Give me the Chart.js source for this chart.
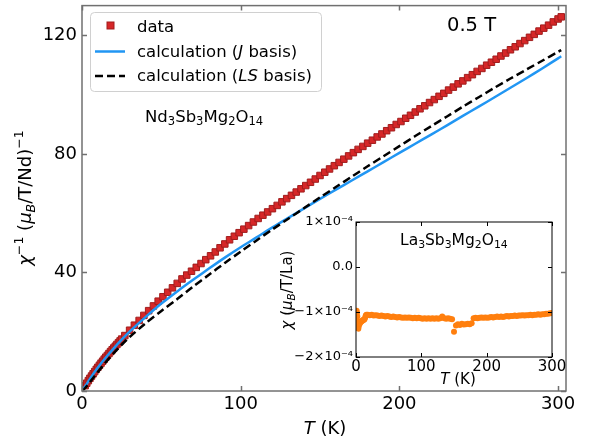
<!DOCTYPE html>
<html>
<head>
<meta charset="utf-8">
<script src="https://cdn.jsdelivr.net/npm/chart.js@4.4.0/dist/chart.umd.min.js"></script>
<style>
  html, body { margin: 0; padding: 0; background: #fff; }
  #wrap { position: relative; width: 596px; height: 443px; }
  #main { position: absolute; left: 0; top: 0; }
  #inset { position: absolute; left: 280px; top: 205px; }
</style>
</head>
<body>
<div id="wrap">
  <canvas id="main" width="596" height="443"></canvas>
  <canvas id="inset" width="310" height="190"></canvas>
</div>
<script>
// inverse susceptibility of Nd3Sb3Mg2O14 at 0.5 T
const tData = [2, 3, 4, 5, 6, 7, 8, 9, 10, 11, 12, 13, 14, 15, 16, 17, 18, 19, 20, 21, 22, 23, 24, 25,
  27, 30, 33, 36, 39, 42, 45, 48, 51, 54, 57, 60, 63, 66, 69, 72, 75, 78, 81, 84, 87, 90, 93, 96, 99,
  102, 105, 108, 111, 114, 117, 120, 123, 126, 129, 132, 135, 138, 141, 144, 147, 150, 153, 156, 159,
  162, 165, 168, 171, 174, 177, 180, 183, 186, 189, 192, 195, 198, 201, 204, 207, 210, 213, 216, 219,
  222, 225, 228, 231, 234, 237, 240, 243, 246, 249, 252, 255, 258, 261, 264, 267, 270, 273, 276, 279,
  282, 285, 288, 291, 294, 297, 300, 302];
const chiInvData = [1.8, 2.65, 3.5, 4.3, 5.05, 5.8, 6.55, 7.3, 8.0, 8.7, 9.4, 10.05, 10.75, 11.4, 12.0, 12.65,
  13.3, 13.9, 14.5, 15.1, 15.7, 16.3, 16.9, 17.5,
  18.7, 20.5, 22.2, 23.8, 25.5, 27.1, 28.7, 30.3, 31.8, 33.3, 34.8, 36.3, 37.8, 39.1, 40.4, 41.7, 43.0,
  44.3, 45.6, 46.9, 48.3, 49.6, 51.0, 52.2, 53.4, 54.6, 55.8, 57.0, 58.2, 59.3, 60.4, 61.5, 62.6, 63.8,
  64.9, 66.0, 67.1, 68.2, 69.3, 70.4, 71.5, 72.7, 73.8, 74.9, 76.0, 77.1, 78.2, 79.3, 80.4, 81.5, 82.5,
  83.6, 84.6, 85.7, 86.7, 87.8, 88.8, 89.9, 90.9, 92.0, 93.0, 94.1, 95.2, 96.2, 97.3, 98.3, 99.4, 100.4,
  101.5, 102.5, 103.6, 104.6, 105.7, 106.7, 107.8, 108.8, 109.9, 110.9, 111.9, 113.0, 114.0, 115.1,
  116.1, 117.2, 118.2, 119.3, 120.3, 121.4, 122.4, 123.4, 124.5, 125.5, 126.2];

// crystal field calculations
const tCalc = [0, 2, 5, 10, 15, 20, 25, 30, 40, 50, 60, 70, 80, 90, 100, 110, 120, 130, 140, 150, 160,
  170, 180, 190, 200, 210, 220, 230, 240, 250, 260, 270, 280, 290, 300, 302];
const chiInvJ = [0, 1.6, 4.1, 7.9, 11.3, 14.4, 17.3, 20.0, 24.9, 29.5, 33.6, 37.5, 41.3, 45.0, 48.5, 51.8,
  55.2, 58.4, 61.6, 64.8, 67.9, 71.0, 74.1, 77.2, 80.3, 83.4, 86.5, 89.6, 92.8, 95.9, 99.1, 102.3, 105.5,
  108.8, 112.2, 112.9];
const chiInvLS = [0, 1.0, 3.0, 6.4, 9.7, 12.8, 15.6, 18.2, 22.8, 27.0, 31.0, 35.2, 39.2, 43.2, 47.0, 50.8,
  54.5, 58.1, 61.7, 65.3, 68.8, 72.3, 75.8, 79.2, 82.6, 86.0, 89.3, 92.6, 95.9, 99.1, 102.3, 105.4, 108.4,
  111.4, 114.4, 115.0];

// La3Sb3Mg2O14 susceptibility, in units of 1e-4 muB/T/La
const tLa = [1, 1.5, 2, 2.5, 3, 3.5, 4, 5, 6, 7, 8, 9, 10, 11, 12, 13, 14, 15, 16,
  18, 21, 24, 27, 30, 33, 36, 39, 42, 45, 48, 51, 54, 57, 60, 63, 66, 69, 72, 75, 78, 81, 84, 87, 90,
  93, 96, 99, 102, 105, 108, 111, 114, 117, 120, 123, 126, 129, 132, 135, 138, 141, 144, 147, 150,
  153, 156, 159, 162, 165, 168, 171, 174, 177, 180, 183, 186, 189, 192, 195, 198, 201, 204, 207, 210,
  213, 216, 219, 222, 225, 228, 231, 234, 237, 240, 243, 246, 249, 252, 255, 258, 261, 264, 267, 270,
  273, 276, 279, 282, 285, 288, 291, 294, 297, 300];
const chiLa = [-0.97, -1.02, -1.10, -1.20, -1.30, -1.37, -1.33, -1.28, -1.25, -1.22, -1.21, -1.20, -1.19,
  -1.18, -1.17, -1.16, -1.12, -1.08, -1.06,
  -1.06, -1.07, -1.06, -1.08, -1.07, -1.08, -1.09, -1.08, -1.09, -1.10, -1.09, -1.10, -1.11, -1.10,
  -1.11, -1.12, -1.11, -1.12, -1.13, -1.12, -1.13, -1.12, -1.13, -1.14, -1.13, -1.14, -1.13, -1.14,
  -1.15, -1.14, -1.15, -1.14, -1.15, -1.14, -1.15, -1.14, -1.15, -1.14, -1.10, -1.14, -1.15, -1.14,
  -1.15, -1.16, -1.44, -1.30, -1.27, -1.29, -1.26, -1.28, -1.27, -1.26, -1.27, -1.25, -1.14, -1.13,
  -1.14, -1.13, -1.12, -1.13, -1.12, -1.13, -1.12, -1.11, -1.12, -1.11, -1.10, -1.11, -1.10, -1.11,
  -1.10, -1.09, -1.10, -1.09, -1.09, -1.08, -1.09, -1.08, -1.08, -1.07, -1.08, -1.07, -1.07, -1.06,
  -1.07, -1.06, -1.06, -1.05, -1.06, -1.05, -1.05, -1.04, -1.04, -1.03, -1.02];

const mainXTicks = [0, 100, 200, 300];
const mainYTicks = [0, 40, 80, 120];
const insetXTicks = [0, 100, 200, 300];
const insetYTicks = [-2, -1, 0, 1];
const insetYLabels = ['−2×10⁻⁴', '−1×10⁻⁴', '0.0', '1×10⁻⁴'];

const FAMILY = '"DejaVu Sans", sans-serif';
const toXY = (xs, ys) => xs.map((x, i) => ({ x: x, y: ys[i] }));

// text with italic / sub / sup pieces
function richText(ctx, parts, x, y, size, align) {
  const fontOf = p => (p.i ? 'italic ' : '') + (p.s ? size * 0.7 : size) + 'px ' + FAMILY;
  let w = 0;
  parts.forEach(p => { ctx.font = fontOf(p); w += ctx.measureText(p.t).width; });
  let cx = align === 'center' ? x - w / 2 : (align === 'right' ? x - w : x);
  ctx.textAlign = 'left';
  ctx.textBaseline = 'alphabetic';
  parts.forEach(p => {
    ctx.font = fontOf(p);
    const dy = p.s === 'sub' ? size * 0.2 : (p.s === 'sup' ? -size * 0.42 : 0);
    ctx.fillText(p.t, cx, y + dy);
    cx += ctx.measureText(p.t).width;
  });
}

// box around the plot with inward ticks on all four sides
function frameTicks(color, len, lw) {
  return {
    id: 'frameTicks',
    afterDatasetsDraw(chart) {
      const { ctx, chartArea: a, scales: { x, y } } = chart;
      ctx.save();
      ctx.strokeStyle = color;
      ctx.lineWidth = lw;
      ctx.beginPath();
      x.ticks.forEach(t => {
        const px = Math.round(x.getPixelForValue(t.value)) + 0.5;
        ctx.moveTo(px, a.bottom); ctx.lineTo(px, a.bottom - len);
        ctx.moveTo(px, a.top); ctx.lineTo(px, a.top + len);
      });
      y.ticks.forEach(t => {
        const py = Math.round(y.getPixelForValue(t.value)) + 0.5;
        ctx.moveTo(a.left, py); ctx.lineTo(a.left + len, py);
        ctx.moveTo(a.right, py); ctx.lineTo(a.right - len, py);
      });
      ctx.stroke();
      ctx.strokeRect(a.left, a.top, a.right - a.left, a.bottom - a.top);
      ctx.restore();
    }
  };
}

const mainText = {
  id: 'mainText',
  afterDraw(chart) {
    const ctx = chart.ctx;
    ctx.save();
    ctx.fillStyle = '#000';

    // legend
    ctx.beginPath();
    ctx.roundRect(90.5, 12.5, 231, 79, 4);
    ctx.fillStyle = 'rgba(255,255,255,0.8)';
    ctx.fill();
    ctx.strokeStyle = '#d0d0d0';
    ctx.lineWidth = 1;
    ctx.stroke();

    ctx.fillStyle = '#d62728';
    ctx.strokeStyle = '#a11d1d';
    ctx.fillRect(107, 22, 7, 7);
    ctx.strokeRect(107, 22, 7, 7);

    ctx.lineWidth = 2.5;
    ctx.strokeStyle = '#2196f3';
    ctx.beginPath(); ctx.moveTo(95, 51.5); ctx.lineTo(125, 51.5); ctx.stroke();
    ctx.strokeStyle = '#000';
    ctx.setLineDash([8, 4]);
    ctx.beginPath(); ctx.moveTo(95, 76); ctx.lineTo(125, 76); ctx.stroke();
    ctx.setLineDash([]);

    ctx.fillStyle = '#000';
    richText(ctx, [{ t: 'data' }], 137, 31.5, 16.5, 'left');
    richText(ctx, [{ t: 'calculation (' }, { t: 'J', i: 1 }, { t: ' basis)' }], 137, 56.5, 16.5, 'left');
    richText(ctx, [{ t: 'calculation (' }, { t: 'LS', i: 1 }, { t: ' basis)' }], 137, 81, 16.5, 'left');

    // annotations
    richText(ctx, [{ t: '0.5 T' }], 447, 31, 19.5, 'left');
    richText(ctx, [{ t: 'Nd' }, { t: '3', s: 'sub' }, { t: 'Sb' }, { t: '3', s: 'sub' }, { t: 'Mg' },
      { t: '2', s: 'sub' }, { t: 'O' }, { t: '14', s: 'sub' }], 145, 121.5, 16.5, 'left');

    // axis titles
    richText(ctx, [{ t: 'T', i: 1 }, { t: ' (K)' }], 325, 434, 18, 'center');
    ctx.translate(31, 198);
    ctx.rotate(-Math.PI / 2);
    richText(ctx, [{ t: 'χ', i: 1 }, { t: '−1', s: 'sup' }, { t: ' (' }, { t: 'μ', i: 1 }, { t: 'B', i: 1, s: 'sub' },
      { t: '/T/Nd)' }, { t: '−1', s: 'sup' }], 0, 0, 18, 'center');
    ctx.restore();
  }
};

const insetText = {
  id: 'insetText',
  afterDraw(chart) {
    const ctx = chart.ctx;
    ctx.save();
    ctx.fillStyle = '#000';
    richText(ctx, [{ t: 'La' }, { t: '3', s: 'sub' }, { t: 'Sb' }, { t: '3', s: 'sub' }, { t: 'Mg' },
      { t: '2', s: 'sub' }, { t: 'O' }, { t: '14', s: 'sub' }], 120, 39.5, 15.5, 'left');
    richText(ctx, [{ t: 'T', i: 1 }, { t: ' (K)' }], 178, 179, 15, 'center');
    ctx.translate(12, 85);
    ctx.rotate(-Math.PI / 2);
    richText(ctx, [{ t: 'χ', i: 1 }, { t: ' (' }, { t: 'μ', i: 1 }, { t: 'B', i: 1, s: 'sub' }, { t: '/T/La)' }],
      0, 0, 15, 'center');
    ctx.restore();
  }
};

const setTicks = list => scale => { scale.ticks = list.map(v => ({ value: v })); };
// fixed axis box sizes, no extra room for edge labels
const fixX = h => s => { s.height = h; s.paddingLeft = 0; s.paddingRight = 0; };
const fixY = w => s => { s.width = w; s.paddingTop = 0; s.paddingBottom = 0; };

new Chart(document.getElementById('main'), {
  type: 'scatter',
  data: {
    datasets: [
      {
        label: 'data',
        data: toXY(tData, chiInvData),
        pointStyle: 'rect',
        pointRadius: 4.6,
        backgroundColor: '#d62728',
        borderColor: '#a11d1d',
        borderWidth: 1,
        order: 3
      },
      {
        label: 'calculation (J basis)',
        type: 'line',
        data: toXY(tCalc, chiInvJ),
        borderColor: '#2196f3',
        borderWidth: 2.5,
        pointRadius: 0,
        tension: 0.3,
        order: 2
      },
      {
        label: 'calculation (LS basis)',
        type: 'line',
        data: toXY(tCalc, chiInvLS),
        borderColor: '#000',
        borderWidth: 2.5,
        borderDash: [8, 4],
        pointRadius: 0,
        tension: 0.3,
        order: 1
      }
    ]
  },
  options: {
    responsive: false,
    animation: false,
    devicePixelRatio: 1,
    layout: { padding: { left: 0, top: 4, right: 30, bottom: 0 } },
    plugins: { legend: { display: false }, tooltip: { enabled: false } },
    scales: {
      x: {
        type: 'linear', min: 0, max: 305,
        grid: { display: false, drawTicks: false },
        border: { display: false },
        afterBuildTicks: setTicks(mainXTicks),
        afterFit: fixX(52),
        ticks: { color: '#000', padding: 3, font: { family: FAMILY, size: 18 } }
      },
      y: {
        type: 'linear', min: 0, max: 130,
        grid: { display: false, drawTicks: false },
        border: { display: false },
        afterBuildTicks: setTicks(mainYTicks),
        afterFit: fixY(82),
        ticks: { color: '#000', padding: 5, font: { family: FAMILY, size: 18 } }
      }
    }
  },
  plugins: [frameTicks('#707070', 5, 1.5), mainText]
});

new Chart(document.getElementById('inset'), {
  type: 'scatter',
  data: {
    datasets: [{
      data: toXY(tLa, chiLa),
      pointRadius: 3,
      backgroundColor: '#ff7f0e',
      borderWidth: 0
    }]
  },
  options: {
    responsive: false,
    animation: false,
    devicePixelRatio: 1,
    layout: { padding: { left: 0, top: 17, right: 38, bottom: 0 } },
    plugins: { legend: { display: false }, tooltip: { enabled: false } },
    scales: {
      x: {
        type: 'linear', min: 0, max: 300,
        grid: { display: false, drawTicks: false },
        border: { display: false },
        afterBuildTicks: setTicks(insetXTicks),
        afterFit: fixX(38),
        ticks: { color: '#000', padding: 1, font: { family: FAMILY, size: 15 } }
      },
      y: {
        type: 'linear', min: -2, max: 1,
        grid: { display: false, drawTicks: false },
        border: { display: false },
        afterBuildTicks: setTicks(insetYTicks),
        afterFit: fixY(76),
        ticks: {
          color: '#000', padding: 3, font: { family: FAMILY, size: 13 },
          callback: v => insetYLabels[insetYTicks.indexOf(v)]
        }
      }
    }
  },
  plugins: [frameTicks('#000', 4, 1), insetText]
});
</script>
</body>
</html>
